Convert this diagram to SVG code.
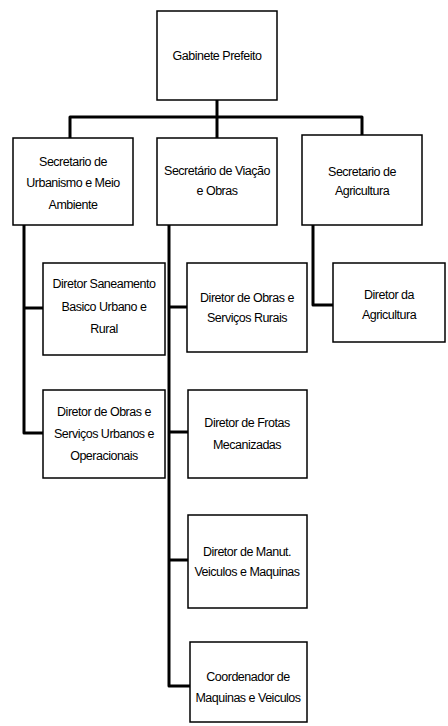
<svg xmlns="http://www.w3.org/2000/svg" width="448" height="726" viewBox="0 0 448 726">
<style>
.box{fill:#fff;stroke:#000;stroke-width:1.5}
.t{font-family:"Liberation Sans",Arial,sans-serif;font-size:12.5px;letter-spacing:-0.5px;text-anchor:middle;fill:#000}
.c{fill:none;stroke:#000;stroke-width:3;stroke-linejoin:round}
</style>
<rect width="448" height="726" fill="#fff"/>
<g id="connectors">
<path class="c" d="M217,100 V117"/>
<path class="c" d="M70,138 V117 H362 V135"/>
<path class="c" d="M217,117 V138"/>
<path class="c" d="M24,225 V433 H43"/>
<path class="c" d="M24,308 H43"/>
<path class="c" d="M169,225 V686 H190"/>
<path class="c" d="M169,307 H187"/>
<path class="c" d="M169,432 H188"/>
<path class="c" d="M169,560 H188"/>
<path class="c" d="M313,225 V305 H333"/>
</g>
<g id="gabinete">
<rect class="box" x="157" y="11" width="120" height="89"/>
<text class="t" x="217" y="60">Gabinete Prefeito</text>
</g>
<g id="sec-urbanismo">
<rect class="box" x="13" y="138" width="120" height="87"/>
<text class="t" x="73" y="166">Secretario de</text>
<text class="t" x="73" y="187">Urbanismo e Meio</text>
<text class="t" x="73" y="209">Ambiente</text>
</g>
<g id="sec-viacao">
<rect class="box" x="157" y="138" width="120" height="87"/>
<text class="t" x="217" y="175">Secretário de Viação</text>
<text class="t" x="217" y="195">e Obras</text>
</g>
<g id="sec-agricultura">
<rect class="box" x="302" y="135" width="120" height="90"/>
<text class="t" x="362" y="176">Secretario de</text>
<text class="t" x="362" y="195">Agricultura</text>
</g>
<g id="dir-saneamento">
<rect class="box" x="43" y="263" width="122" height="92"/>
<text class="t" x="104" y="288">Diretor Saneamento</text>
<text class="t" x="104" y="311">Basico Urbano e</text>
<text class="t" x="104" y="333">Rural</text>
</g>
<g id="dir-obras-urbanos">
<rect class="box" x="43" y="390" width="122" height="88"/>
<text class="t" x="104" y="416">Diretor de Obras e</text>
<text class="t" x="104" y="438">Serviços Urbanos e</text>
<text class="t" x="104" y="460">Operacionais</text>
</g>
<g id="dir-obras-rurais">
<rect class="box" x="187" y="263" width="120" height="89"/>
<text class="t" x="247" y="302">Diretor de Obras e</text>
<text class="t" x="247" y="322">Serviços Rurais</text>
</g>
<g id="dir-frotas">
<rect class="box" x="188" y="390" width="119" height="88"/>
<text class="t" x="247" y="427">Diretor de Frotas</text>
<text class="t" x="247" y="449">Mecanizadas</text>
</g>
<g id="dir-manut">
<rect class="box" x="188" y="515" width="119" height="93"/>
<text class="t" x="247" y="556">Diretor de Manut.</text>
<text class="t" x="247" y="576">Veiculos e Maquinas</text>
</g>
<g id="coord-maquinas">
<rect class="box" x="190" y="642" width="117" height="80"/>
<text class="t" x="248" y="681">Coordenador de</text>
<text class="t" x="248" y="702">Maquinas e Veiculos</text>
</g>
<g id="dir-agricultura">
<rect class="box" x="333" y="263" width="112" height="79"/>
<text class="t" x="389" y="299">Diretor da</text>
<text class="t" x="389" y="319">Agricultura</text>
</g>
</svg>
